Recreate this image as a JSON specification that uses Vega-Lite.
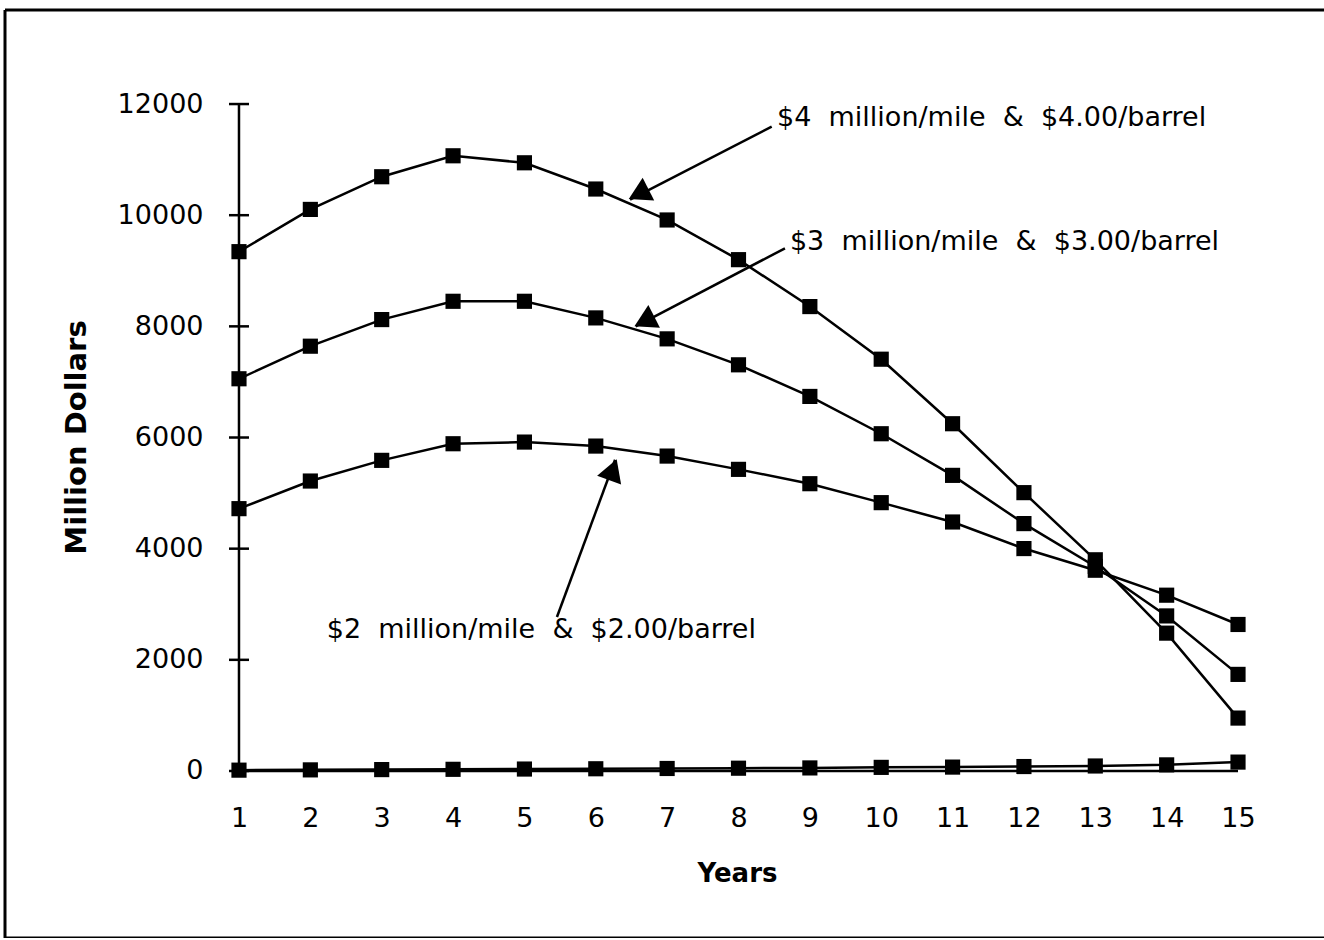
{
  "$schema": "https://vega.github.io/schema/vega-lite/v6.json",
  "width": 1319,
  "height": 928,
  "autosize": {"type": "none"},
  "padding": {"left": 5, "top": 10, "right": 0, "bottom": 0},
  "background": "white",
  "config": {
    "view": {"stroke": null},
    "font": "DejaVu Sans"
  },
  "datasets": {
    "series": [
      {"year": 1, "value": 9344, "s": "A"}, {"year": 2, "value": 10104, "s": "A"}, {"year": 3, "value": 10692, "s": "A"},
      {"year": 4, "value": 11069, "s": "A"}, {"year": 5, "value": 10943, "s": "A"}, {"year": 6, "value": 10471, "s": "A"},
      {"year": 7, "value": 9914, "s": "A"}, {"year": 8, "value": 9200, "s": "A"}, {"year": 9, "value": 8356, "s": "A"},
      {"year": 10, "value": 7409, "s": "A"}, {"year": 11, "value": 6248, "s": "A"}, {"year": 12, "value": 5008, "s": "A"},
      {"year": 13, "value": 3800, "s": "A"}, {"year": 14, "value": 2480, "s": "A"}, {"year": 15, "value": 952, "s": "A"},
      {"year": 1, "value": 7057, "s": "B"}, {"year": 2, "value": 7643, "s": "B"}, {"year": 3, "value": 8122, "s": "B"},
      {"year": 4, "value": 8451, "s": "B"}, {"year": 5, "value": 8451, "s": "B"}, {"year": 6, "value": 8152, "s": "B"},
      {"year": 7, "value": 7775, "s": "B"}, {"year": 8, "value": 7308, "s": "B"}, {"year": 9, "value": 6739, "s": "B"},
      {"year": 10, "value": 6068, "s": "B"}, {"year": 11, "value": 5319, "s": "B"}, {"year": 12, "value": 4451, "s": "B"},
      {"year": 13, "value": 3680, "s": "B"}, {"year": 14, "value": 2790, "s": "B"}, {"year": 15, "value": 1738, "s": "B"},
      {"year": 1, "value": 4720, "s": "C"}, {"year": 2, "value": 5217, "s": "C"}, {"year": 3, "value": 5589, "s": "C"},
      {"year": 4, "value": 5888, "s": "C"}, {"year": 5, "value": 5918, "s": "C"}, {"year": 6, "value": 5846, "s": "C"},
      {"year": 7, "value": 5666, "s": "C"}, {"year": 8, "value": 5427, "s": "C"}, {"year": 9, "value": 5169, "s": "C"},
      {"year": 10, "value": 4828, "s": "C"}, {"year": 11, "value": 4480, "s": "C"}, {"year": 12, "value": 4002, "s": "C"},
      {"year": 13, "value": 3612, "s": "C"}, {"year": 14, "value": 3163, "s": "C"}, {"year": 15, "value": 2636, "s": "C"},
      {"year": 1, "value": 15, "s": "D"}, {"year": 2, "value": 20, "s": "D"}, {"year": 3, "value": 25, "s": "D"},
      {"year": 4, "value": 30, "s": "D"}, {"year": 5, "value": 35, "s": "D"}, {"year": 6, "value": 40, "s": "D"},
      {"year": 7, "value": 45, "s": "D"}, {"year": 8, "value": 50, "s": "D"}, {"year": 9, "value": 55, "s": "D"},
      {"year": 10, "value": 65, "s": "D"}, {"year": 11, "value": 70, "s": "D"}, {"year": 12, "value": 80, "s": "D"},
      {"year": 13, "value": 90, "s": "D"}, {"year": 14, "value": 110, "s": "D"}, {"year": 15, "value": 160, "s": "D"}
    ],
    "yticks": [
      {"year": 1, "value": 0}, {"year": 1, "value": 2000}, {"year": 1, "value": 4000}, {"year": 1, "value": 6000},
      {"year": 1, "value": 8000}, {"year": 1, "value": 10000}, {"year": 1, "value": 12000}
    ],
    "axislines": [
      {"year": 1, "value": 0, "year2": 1, "value2": 12000, "w": 2.5},
      {"year": 1, "value": 0, "year2": 15, "value2": 0, "w": 2.5}
    ],
    "frame": [
      {"year": -2.279, "value": -3005, "year2": -2.279, "value2": 13692},
      {"year": -2.279, "value": 13692, "year2": 16.205, "value2": 13692},
      {"year": -2.279, "value": -3005, "year2": 16.205, "value2": -3005}
    ],
    "arrows": [
      {"year": 8.465, "value": 11592, "year2": 6.48, "value2": 10280, "hx": 6.6, "hy": 10380, "angle": 243},
      {"year": 8.651, "value": 9404, "year2": 6.56, "value2": 8000, "hx": 6.68, "hy": 8090, "angle": 243},
      {"year": 5.456, "value": 2771, "year2": 6.27, "value2": 5600, "hx": 6.24, "hy": 5420, "angle": 20}
    ],
    "labels": [
      {"year": 8.54, "value": 11749, "label": "$4\u00a0 million/mile\u00a0 &\u00a0 $4.00/barrel"},
      {"year": 8.72, "value": 9523, "label": "$3\u00a0 million/mile\u00a0 &\u00a0 $3.00/barrel"},
      {"year": 2.23, "value": 2537, "label": "$2\u00a0 million/mile\u00a0 &\u00a0 $2.00/barrel"}
    ]
  },
  "layer": [
    {
      "data": {"name": "series"},
      "mark": {"type": "line", "color": "black", "strokeWidth": 2.5},
      "encoding": {
        "x": {
          "field": "year", "type": "quantitative",
          "scale": {"domain": [-2.279, 16.205], "nice": false, "zero": false},
          "axis": {
            "values": [1,2,3,4,5,6,7,8,9,10,11,12,13,14,15], "format": "d",
            "offset": -167, "domain": false, "ticks": false, "tickSize": 0, "grid": false,
            "labelFont": "DejaVu Sans", "labelFontSize": 27, "labelColor": "black", "labelPadding": 34,
            "title": "Years", "titleFont": "DejaVu Sans", "titleFontSize": 26, "titleFontWeight": "bold",
            "titleColor": "black", "titleX": 732, "titleY": 102, "titleBaseline": "middle", "titleAlign": "center"
          }
        },
        "y": {
          "field": "value", "type": "quantitative",
          "scale": {"domain": [-3005, 13692], "nice": false, "zero": false},
          "axis": {
            "values": [0,2000,4000,6000,8000,10000,12000], "format": "d",
            "offset": -234, "domain": false, "ticks": false, "tickSize": 0, "grid": false,
            "labelFont": "DejaVu Sans", "labelFontSize": 27, "labelColor": "black", "labelPadding": 36,
            "title": "Million Dollars", "titleFont": "DejaVu Sans", "titleFontSize": 29, "titleFontWeight": "bold",
            "titleColor": "black", "titleX": -163, "titleY": 427, "titleAngle": -90, "titleBaseline": "middle", "titleAlign": "center"
          }
        },
        "detail": {"field": "s"}
      }
    },
    {
      "data": {"name": "series"},
      "mark": {"type": "point", "shape": "square", "filled": true, "color": "black", "size": 230, "opacity": 1},
      "encoding": {
        "x": {"field": "year", "type": "quantitative"},
        "y": {"field": "value", "type": "quantitative"}
      }
    },
    {
      "data": {"name": "frame"},
      "mark": {"type": "rule", "color": "black", "strokeWidth": 3},
      "encoding": {
        "x": {"field": "year", "type": "quantitative"},
        "y": {"field": "value", "type": "quantitative"},
        "x2": {"field": "year2"},
        "y2": {"field": "value2"}
      }
    },
    {
      "data": {"name": "axislines"},
      "mark": {"type": "rule", "color": "black", "strokeWidth": 2.5},
      "encoding": {
        "x": {"field": "year", "type": "quantitative"},
        "y": {"field": "value", "type": "quantitative"},
        "x2": {"field": "year2"},
        "y2": {"field": "value2"}
      }
    },
    {
      "data": {"name": "yticks"},
      "mark": {"type": "tick", "orient": "horizontal", "color": "black", "size": 20, "thickness": 2.5, "opacity": 1},
      "encoding": {
        "x": {"field": "year", "type": "quantitative"},
        "y": {"field": "value", "type": "quantitative"}
      }
    },
    {
      "data": {"name": "arrows"},
      "mark": {"type": "rule", "color": "black", "strokeWidth": 2.5},
      "encoding": {
        "x": {"field": "year", "type": "quantitative"},
        "y": {"field": "value", "type": "quantitative"},
        "x2": {"field": "year2"},
        "y2": {"field": "value2"}
      }
    },
    {
      "data": {"name": "arrows"},
      "mark": {"type": "point", "shape": "triangle-up", "filled": true, "color": "black", "size": 650, "opacity": 1},
      "encoding": {
        "x": {"field": "hx", "type": "quantitative"},
        "y": {"field": "hy", "type": "quantitative"},
        "angle": {"field": "angle", "type": "quantitative", "scale": null}
      }
    },
    {
      "data": {"name": "labels"},
      "mark": {"type": "text", "align": "left", "baseline": "middle", "font": "DejaVu Sans", "fontSize": 27, "color": "black"},
      "encoding": {
        "x": {"field": "year", "type": "quantitative"},
        "y": {"field": "value", "type": "quantitative"},
        "text": {"field": "label"}
      }
    }
  ]
}
